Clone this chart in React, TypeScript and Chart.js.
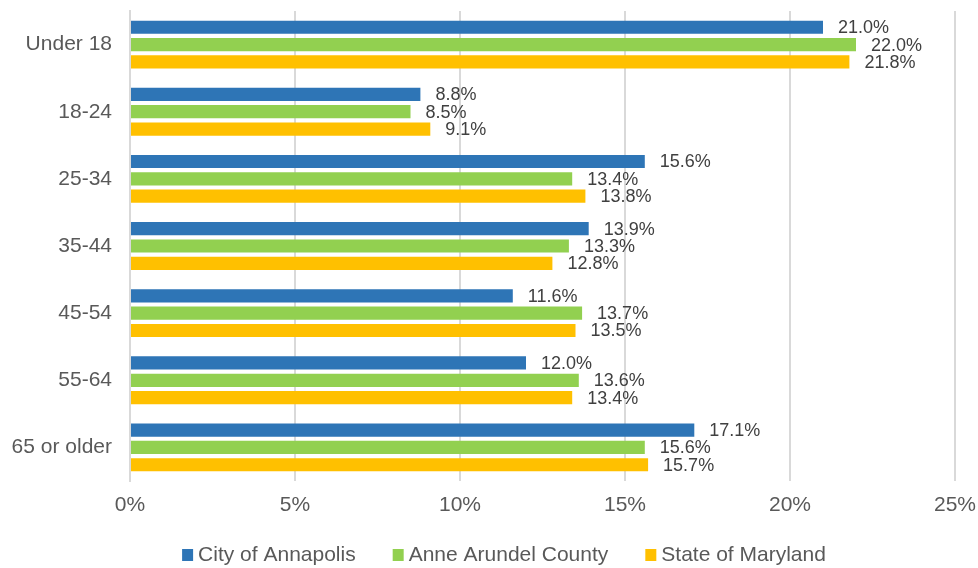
import React, { useEffect, useRef } from "react";
import { Chart, registerables } from "chart.js";

Chart.register(...registerables);

const categories = ["Under 18", "18-24", "25-34", "35-44", "45-54", "55-64", "65 or older"];
const annapolis = [21.0, 8.8, 15.6, 13.9, 11.6, 12.0, 17.1];
const anneArundel = [22.0, 8.5, 13.4, 13.3, 13.7, 13.6, 15.6];
const maryland = [21.8, 9.1, 13.8, 12.8, 13.5, 13.4, 15.7];
const seriesNames = ["City of Annapolis", "Anne Arundel County", "State of Maryland"];
const seriesColors = ["#2E75B6", "#92D050", "#FFC000"];
const xMin = 0;
const xMax = 25;
const xStep = 5;

const FONT = "'Liberation Sans', Arial, sans-serif";

const dataLabelPlugin = {
  id: "dataLabels",
  afterDatasetsDraw(chart: any) {
    const ctx = chart.ctx;
    ctx.save();
    ctx.font = `18px ${FONT}`;
    ctx.fillStyle = "#404040";
    ctx.textAlign = "left";
    ctx.textBaseline = "middle";
    chart.data.datasets.forEach((ds: any, i: number) => {
      const meta = chart.getDatasetMeta(i);
      meta.data.forEach((el: any, j: number) => {
        const v = ds.data[j];
        ctx.fillText(v.toFixed(1) + "%", el.x + 15, el.y + 1);
      });
    });
    ctx.restore();
  },
};

const legendPlugin = {
  id: "customLegend",
  afterDraw(chart: any) {
    const ctx = chart.ctx;
    ctx.save();
    ctx.font = `21px ${FONT}`;
    ctx.textAlign = "left";
    ctx.textBaseline = "middle";
    const box = 11;
    const gapText = 5;
    const gapItem = 37;
    const widths = seriesNames.map((n) => box + gapText + ctx.measureText(n).width);
    const total = widths.reduce((a, b) => a + b, 0) + gapItem * (seriesNames.length - 1);
    let x = 504 - total / 2;
    const y = 555;
    seriesNames.forEach((n, i) => {
      ctx.fillStyle = seriesColors[i];
      ctx.fillRect(x, y - 6, box, 12);
      ctx.fillStyle = "#595959";
      ctx.fillText(n, x + box + gapText, y);
      x += widths[i] + gapItem;
    });
    ctx.restore();
  },
};

export default function App() {
  const ref = useRef<HTMLCanvasElement | null>(null);
  useEffect(() => {
    if (!ref.current) return;
    const seriesData = [annapolis, anneArundel, maryland];
    const chart = new Chart(ref.current, {
      type: "bar",
      data: {
        labels: categories,
        datasets: seriesNames.map((name, i) => ({
          label: name,
          data: seriesData[i],
          backgroundColor: seriesColors[i],
          borderWidth: 0,
          barPercentage: 0.76,
          categoryPercentage: 0.775,
        })),
      },
      options: {
        indexAxis: "y",
        responsive: true,
        maintainAspectRatio: false,
        animation: false,
        layout: { padding: { left: 10, right: 23, top: 11, bottom: 50 } },
        plugins: {
          legend: { display: false },
          tooltip: { enabled: false },
        },
        scales: {
          x: {
            min: xMin,
            max: xMax,
            ticks: {
              stepSize: xStep,
              callback: (v: any) => v + "%",
              color: "#595959",
              font: { family: FONT, size: 21 },
              padding: 12,
            },
            grid: { color: "#D9D9D9", lineWidth: 2, drawTicks: false },
            border: { display: false },
            afterFit: (s: any) => {
              s.height = 37;
              s.paddingLeft = 0;
              s.paddingRight = 0;
            },
          },
          y: {
            ticks: {
              color: "#595959",
              font: { family: FONT, size: 21 },
              padding: 18,
            },
            grid: { display: false, drawTicks: false },
            border: { display: true, color: "#D9D9D9", width: 2 },
            afterFit: (s: any) => {
              s.width = 120;
              s.paddingTop = 0;
              s.paddingBottom = 0;
            },
          },
        },
      },
      plugins: [dataLabelPlugin, legendPlugin],
    });
    return () => chart.destroy();
  }, []);
  return (
    <div style={{ position: "fixed", left: 0, top: 0, width: 978, height: 568, background: "#fff" }}>
      <canvas ref={ref} />
    </div>
  );
}
